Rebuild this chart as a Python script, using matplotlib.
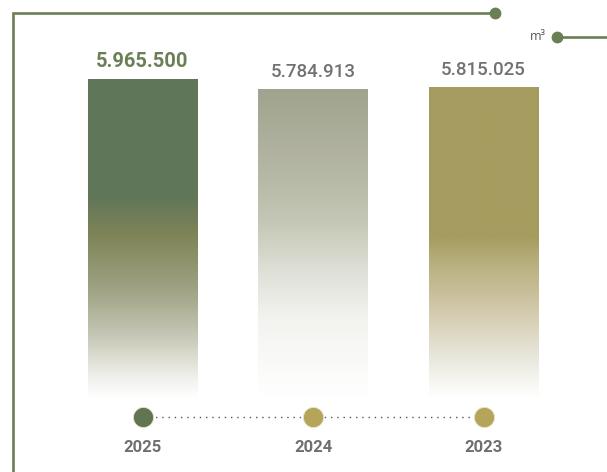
import matplotlib
matplotlib.use("Agg")
import matplotlib.pyplot as plt
import numpy as np
from matplotlib.colors import LinearSegmentedColormap
from matplotlib.lines import Line2D

# Annual water consumption (m³)
years = ["2025", "2024", "2023"]
values = [5965500, 5784913, 5815025]
value_labels = ["5.965.500", "5.784.913", "5.815.025"]

W, H = 607, 472
fig = plt.figure(figsize=(W / 100, H / 100), dpi=100)
ax = fig.add_axes([0, 0, 1, 1])
ax.set_axis_off()

# pixel geometry of the layout, expressed through the data scale
x0_px, unit_px = 142.5, 170.5
base_px = 398
scale = 5815025 / 311.0          # m³ per pixel
xlim = (-x0_px / unit_px, (W - x0_px) / unit_px)
ylim = (-(H - base_px) * scale, base_px * scale)

frame_col = "#6b7f55"
grey = "#717171"

# gradient stops (top -> bottom) for each bar
gradients = [
    [(0.0, "#5f7759"), (0.37, "#617659"), (0.49, "#7e8457"), (0.66, "#9fa283"),
     (0.80, "#c4c5b3"), (0.93, "#eeeee9"), (1.0, "#ffffff")],
    [(0.0, "#a0a38d"), (0.30, "#b8baa8"), (0.44, "#c6c8b7"), (0.60, "#e0e1d9"),
     (0.75, "#f3f3f0"), (1.0, "#ffffff")],
    [(0.0, "#a69c5f"), (0.48, "#a69c5f"), (0.58, "#bbb283"), (0.67, "#c9c09c"),
     (0.78, "#dcd6c0"), (0.89, "#ecebe2"), (1.0, "#ffffff")],
]

xs = np.arange(len(years))
bars = ax.bar(xs, values, width=0.645, color="none", edgecolor="none", zorder=2)
grad = np.linspace(0, 1, 256).reshape(-1, 1)
for bar, stops in zip(bars, gradients):
    cmap = LinearSegmentedColormap.from_list("g", stops)
    x, w, h = bar.get_x(), bar.get_width(), bar.get_height()
    im = ax.imshow(grad, cmap=cmap, aspect="auto", origin="upper",
                   extent=(x, x + w, 0, h), zorder=2, interpolation="bilinear")
    im.set_clip_path(bar)

# value labels above the bars
label_styles = [dict(color=frame_col, fontweight="bold", fontsize=14.5),
                dict(color=grey, fontweight="medium", fontsize=13.5),
                dict(color=grey, fontweight="medium", fontsize=13.5)]
for xi, v, lab, st in zip(xs, values, value_labels, label_styles):
    ax.annotate(lab, (xi, v), xytext=(0, 8), textcoords="offset pixels",
                ha="center", va="bottom", family="Roboto", **st)

ax.set_xlim(*xlim)
ax.set_ylim(*ylim)

# timeline with year markers
tr = ax.get_xaxis_transform()
dot_y = 1 - 417 / H
ax.plot([xs[0], xs[-1]], [dot_y, dot_y], transform=tr, color="#555555",
        lw=1.0, ls=(0, (1, 3.5)), zorder=3)
dot_cols = ["#627552", "#b5a55a", "#b5a55a"]
for xi, c in zip(xs, dot_cols):
    ax.plot([xi], [dot_y], transform=tr, marker="o", ms=14.5, color=c,
            mec="#e8e4cc", mew=0.6, zorder=4)
for xi, y in zip(xs, years):
    ax.text(xi, 1 - 448 / H, y, transform=tr, ha="center", va="center",
            family="Roboto", fontweight="bold", fontsize=12, color="#6f6f6f")

# decorative frame
def fx(px):
    return px / W

def fy(py):
    return 1 - py / H

fig.add_artist(Line2D([fx(13), fx(13), fx(495)], [fy(H + 2), fy(13), fy(13)],
                      color=frame_col, lw=1.9, solid_joinstyle="miter"))
fig.add_artist(Line2D([fx(495)], [fy(13)], marker="o", ms=7.5, color=frame_col, lw=0))
fig.add_artist(Line2D([fx(557), fx(W + 2)], [fy(37), fy(37)], color=frame_col, lw=1.9))
fig.add_artist(Line2D([fx(557)], [fy(37)], marker="o", ms=7.5, color=frame_col, lw=0))
fig.text(fx(546), fy(37), "m³", ha="right", va="center", fontsize=9,
         family="Open Sans", color="#555555")

fig.savefig("out.png", dpi=100)
